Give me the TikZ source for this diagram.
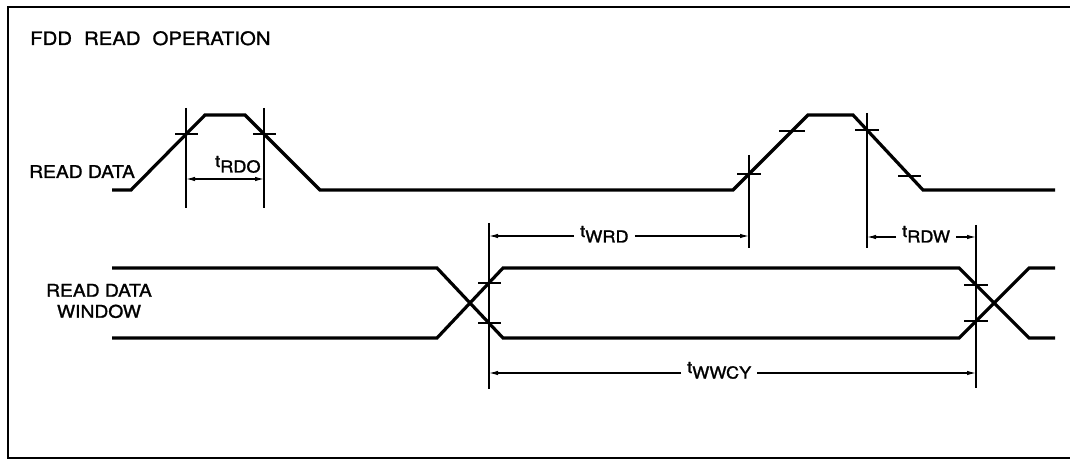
\documentclass[tikz,border=0pt]{standalone}
\usepackage{fontspec}
\setmainfont{TeX Gyre Heros}[FakeBold=1.3, FakeStretch=1.1]
\usetikzlibrary{arrows.meta}
\tikzset{
  signal/.style={line width=3.2pt},
  guide/.style={line width=1.2pt},
  tick/.style={line width=1.2pt},
  dimline/.style={line width=1.2pt, -{Latex[length=9pt,width=4.5pt]}},
  tlabel/.style={anchor=base west, inner ysep=0pt, inner xsep=6pt}
}
\newcommand{\tsub}[1]{{\fontsize{16.5}{15}\selectfont t}\raisebox{-5.5pt}{\fontsize{16.5}{15}\selectfont #1}}
\begin{document}
\begin{tikzpicture}[x=1pt,y=-1pt]
	\useasboundingbox (0,0) rectangle (1070,462);
	\draw[line width=2.6pt] (1070,7) -- (8,7) -- (8,458) -- (1070,458);
	\node[anchor=base west, inner sep=0pt, font=\fontsize{18.5}{20}\selectfont] (title) at (30,45) {FDD\hspace{0.65em}READ\hspace{0.65em}OPERATION};
	\node[anchor=base west, inner sep=0pt, font=\fontsize{17.5}{20}\selectfont] (rdname) at (29,178) {READ DATA};
	\node[align=center, inner sep=0pt, font=\fontsize{17.5}{21}\selectfont] (rwname) at (99,301) {READ DATA\\WINDOW};
	% read data
	\draw[signal] (112,190) -- (131,190) -- (205,115) -- (245,115) -- (320,190) -- (733,190) -- (808,115) -- (853,115) -- (923,190) -- (1055,190);
	% read data window
	\draw[signal] (112,268) -- (437,268) -- (503,338) -- (959,338) -- (1029,268) -- (1055,268);
	\draw[signal] (112,338) -- (437,338) -- (503,268) -- (959,268) -- (1029,338) -- (1055,338);
	% guides
	\draw[guide] (186,108) -- (186,208);
	\draw[guide] (264,108) -- (264,208);
	\draw[guide] (749,155) -- (749,248);
	\draw[guide] (867,113) -- (867,248);
	\draw[guide] (489,223) -- (489,389);
	\draw[guide] (976,225) -- (976,388);
	% ticks
	\draw[tick] (175,134) -- (198,134);
	\draw[tick] (253,134) -- (276,134);
	\draw[tick] (737,174) -- (761,174);
	\draw[tick] (779,131) -- (805,131);
	\draw[tick] (855,130) -- (879,130);
	\draw[tick] (898,176) -- (921,176);
	\draw[tick] (478,283) -- (501,283);
	\draw[tick] (478,323) -- (501,323);
	\draw[tick] (964,285) -- (988,285);
	\draw[tick] (964,321) -- (988,321);
	% timing labels
	\coordinate (rdoL) at (186,179);
	\coordinate (rdoR) at (264,179);
	\coordinate (wrdL) at (489,236);
	\coordinate (wrdR) at (749,236);
	\coordinate (rdwL) at (867,237);
	\coordinate (rdwR) at (976,237);
	\coordinate (wwcyL) at (489,373);
	\coordinate (wwcyR) at (976,373);
	\node[tlabel] (rdo) at (209,167) {\tsub{RDO}};
	\node[tlabel] (wrd) at (574,237) {\tsub{WRD}};
	\node[tlabel] (rdw) at (896,237) {\tsub{RDW}};
	\node[tlabel] (wwcy) at (681,373) {\tsub{WWCY}};
	\draw[guide, {Latex[length=9pt,width=4.5pt]}-{Latex[length=9pt,width=4.5pt]}] (rdoL) -- (rdoR);
	\draw[dimline] (wrd.west |- wrdL) -- (wrdL);
	\draw[dimline] (wrd.east |- wrdR) -- (wrdR);
	\draw[dimline] (rdw.west |- rdwL) -- (rdwL);
	\draw[dimline] (rdw.east |- rdwR) -- (rdwR);
	\draw[dimline] (wwcy.west |- wwcyL) -- (wwcyL);
	\draw[dimline] (wwcy.east |- wwcyR) -- (wwcyR);
\end{tikzpicture}
\end{document}
